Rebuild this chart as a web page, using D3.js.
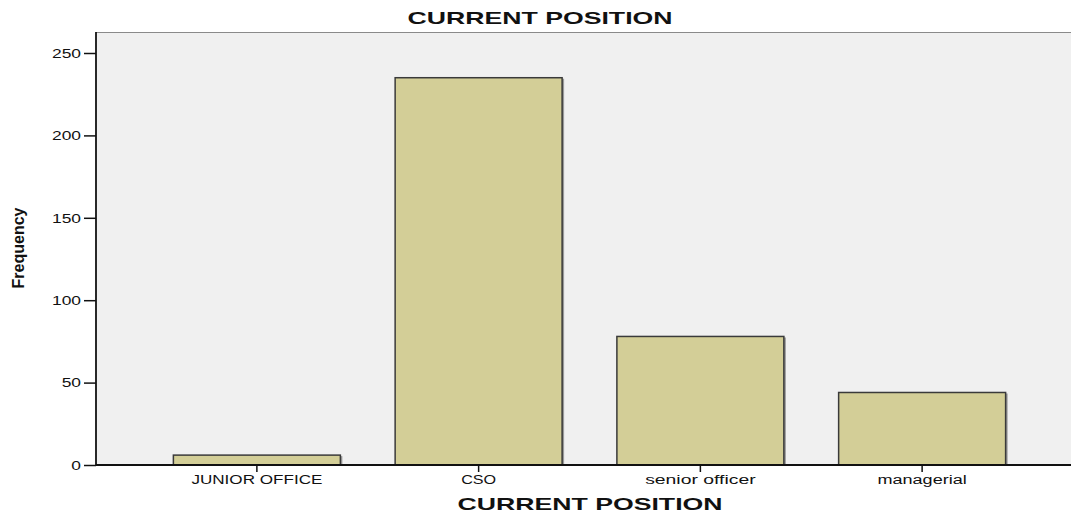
<!DOCTYPE html>
<html>
<head>
<meta charset="utf-8">
<script src="https://cdn.jsdelivr.net/npm/d3@7"></script>
<style>
  html, body { margin: 0; padding: 0; background: #fff; }
  svg { display: block; }
  text { font-family: "Liberation Sans", Arial, sans-serif; fill: #111; }
</style>
</head>
<body>
<svg id="chart" width="1071" height="513"></svg>
<script>
// Frequency of each current position
const categories = ["JUNIOR OFFICE", "CSO", "senior officer", "managerial"];
const frequencies = [6, 235, 78, 44];
const yTicks = [0, 50, 100, 150, 200, 250];

const svg = d3.select("#chart");
const plot = { left: 96, right: 1071, top: 32, bottom: 465 };

const y = d3.scaleLinear().domain([0, 250]).range([plot.bottom, 53]);
const x = d3.scaleBand()
  .domain(categories)
  .range([146, 1033])
  .paddingInner(0.247)
  .paddingOuter(0.1235);

// widen text the way the original renderer does: glyphs stretched horizontally
function widen(sel, extraPerChar) {
  sel.each(function () {
    const n = this.textContent.length;
    const w = this.getComputedTextLength();
    d3.select(this)
      .attr("textLength", w + extraPerChar * n)
      .attr("lengthAdjust", "spacingAndGlyphs");
  });
}

// plot background
svg.append("rect")
  .attr("x", plot.left).attr("y", plot.top)
  .attr("width", plot.right - plot.left).attr("height", plot.bottom - plot.top)
  .attr("fill", "#f0f0f0");
svg.append("line")
  .attr("x1", plot.left).attr("x2", plot.right)
  .attr("y1", plot.top + 0.5).attr("y2", plot.top + 0.5)
  .attr("stroke", "#8a8a8a").attr("stroke-width", 1);

// bars with a soft drop shadow on the right
const bars = svg.append("g");
bars.selectAll("rect.shadow")
  .data(categories)
  .join("rect")
  .attr("class", "shadow")
  .attr("x", d => x(d) + 2)
  .attr("y", (d, i) => y(frequencies[i]) + 1)
  .attr("width", x.bandwidth())
  .attr("height", (d, i) => y(0) - y(frequencies[i]) - 1)
  .attr("fill", "#9a9a9a");
bars.selectAll("rect.bar")
  .data(categories)
  .join("rect")
  .attr("class", "bar")
  .attr("x", d => x(d))
  .attr("y", (d, i) => y(frequencies[i]))
  .attr("width", x.bandwidth())
  .attr("height", (d, i) => y(0) - y(frequencies[i]))
  .attr("fill", "#d3ce97")
  .attr("stroke", "#3a3a3a")
  .attr("stroke-width", 1.5);

// y axis
const yAxis = svg.append("g")
  .attr("transform", `translate(${plot.left},0)`)
  .call(d3.axisLeft(y).tickValues(yTicks).tickSize(12).tickPadding(3).tickSizeOuter(0));
yAxis.select(".domain").remove();
yAxis.selectAll(".tick line").attr("stroke", "#111").attr("stroke-width", 1.5);
yAxis.selectAll(".tick text")
  .style("font-size", "12px")
  .attr("dy", "0.36em")
  .call(widen, 3);
svg.append("line")
  .attr("x1", plot.left).attr("x2", plot.left)
  .attr("y1", plot.top).attr("y2", plot.bottom)
  .attr("stroke", "#111").attr("stroke-width", 1.8);

// x axis
const xAxis = svg.append("g")
  .attr("transform", `translate(0,${plot.bottom})`)
  .call(d3.axisBottom(x).tickSize(7).tickPadding(3).tickSizeOuter(0));
xAxis.select(".domain").remove();
xAxis.selectAll(".tick line").attr("stroke", "#111").attr("stroke-width", 1.5);
xAxis.selectAll(".tick text")
  .style("font-size", "12px")
  .call(widen, 3);
svg.append("line")
  .attr("x1", plot.left).attr("x2", plot.right)
  .attr("y1", plot.bottom).attr("y2", plot.bottom)
  .attr("stroke", "#111").attr("stroke-width", 1.8);

// titles
svg.append("text")
  .attr("x", 540).attr("y", 24)
  .attr("text-anchor", "middle")
  .style("font-size", "17px").style("font-weight", "bold")
  .text("CURRENT POSITION")
  .call(widen, 6);
svg.append("text")
  .attr("x", 590).attr("y", 510)
  .attr("text-anchor", "middle")
  .style("font-size", "17px").style("font-weight", "bold")
  .text("CURRENT POSITION")
  .call(widen, 6);
svg.append("text")
  .attr("transform", "translate(24,248) rotate(-90)")
  .attr("text-anchor", "middle")
  .style("font-family", "'Liberation Sans Narrow', 'Arial Narrow', sans-serif")
  .style("font-size", "16px").style("font-weight", "bold")
  .text("Frequency");
</script>
</body>
</html>
